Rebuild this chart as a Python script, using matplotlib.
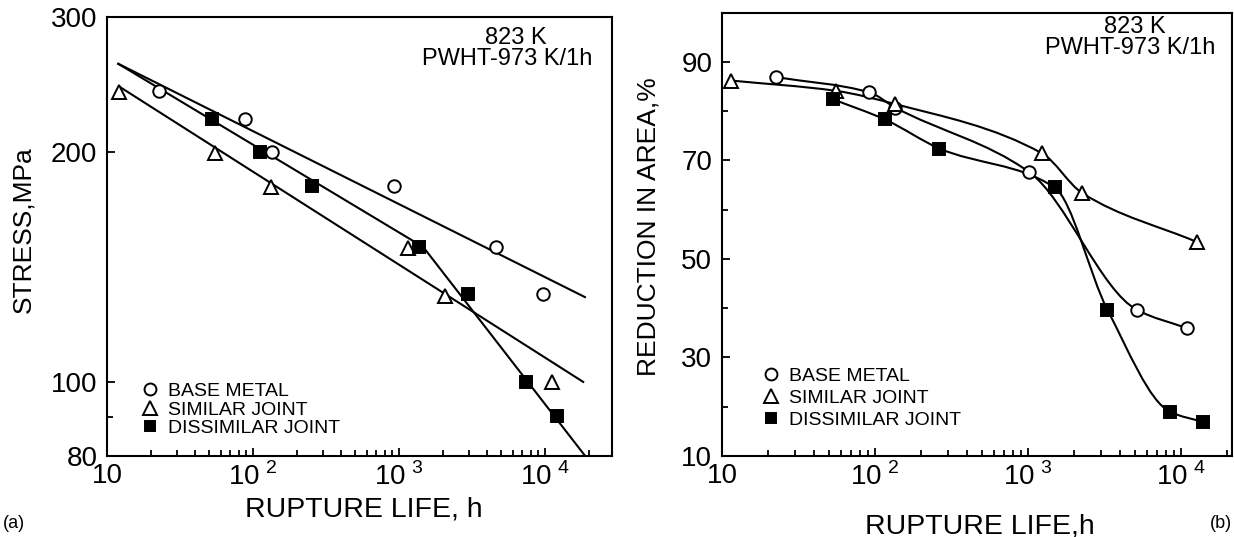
import matplotlib
matplotlib.use("Agg")
import matplotlib.pyplot as plt
from matplotlib.path import Path
from matplotlib.patches import PathPatch
from matplotlib.ticker import FixedLocator, NullFormatter
import numpy as np

plt.rcParams['font.family'] = ['Liberation Sans', 'DejaVu Sans']
plt.rcParams['mathtext.fontset'] = 'custom'
plt.rcParams['mathtext.rm'] = 'Liberation Sans'

# (a) stress vs rupture life, points
base_life = [22.8, 88.9, 134.6, 923, 4613, 9700]
base_stress = [240, 220.6, 200, 180.4, 150.2, 130.2]
sim_life = [12.0, 55.2, 133, 1145, 2065, 11100]
sim_stress = [239.6, 199.4, 179.8, 149.6, 129.5, 100]
dis_life = [52.8, 112, 254.6, 1380, 2993, 7430, 12190]
dis_stress = [220.6, 200, 180.4, 150.2, 130.2, 100, 90.2]

# (a) fitted lines, end points / vertices
base_fit_life = [11.95, 18800]
base_fit_stress = [260.6, 129.1]
sim_fit_life = [12.27, 18300]
sim_fit_stress = [243, 100]
dis_fit_life = [11.95, 1468, 18800]
dis_fit_stress = [260.6, 150.1, 80.1]

# (b) reduction in area vs rupture life
base_life_b = [22.4, 91.6, 135.9, 1018, 5117, 10990]
base_ra = [86.9, 83.8, 80.7, 67.6, 39.7, 35.9]
sim_life_b = [11.4, 55.6, 136, 1236, 2249, 12740]
sim_ra = [86.2, 84.1, 81.4, 71.4, 63.4, 53.4]
dis_life_b = [53, 115.9, 263.6, 1489, 3296, 8433, 13900]
dis_ra = [82.4, 78.3, 72.4, 64.5, 39.7, 19.0, 16.9]

labels = ["BASE METAL", "SIMILAR JOINT", "DISSIMILAR JOINT"]
x_ticks = [10, 100, 1000, 10000]
x_ticklabels = ["10", r"$10^{\ 2}$", r"$10^{\ 3}$", r"$10^{\ 4}$"]

LW = 1.5
MS = 9


def smooth_path(xs, ys):
    # cubic bezier through the points in (log x, y), pchip-style slopes
    x = np.log10(xs)
    y = np.asarray(ys, float)
    h = np.diff(x)
    d = np.diff(y) / h
    m = np.zeros_like(y)
    for i in range(1, len(y) - 1):
        if d[i - 1] * d[i] > 0:
            w1 = 2 * h[i] + h[i - 1]
            w2 = h[i] + 2 * h[i - 1]
            m[i] = (w1 + w2) / (w1 / d[i - 1] + w2 / d[i])
    m[0] = d[0]
    m[-1] = d[-1]
    verts = [(x[0], y[0])]
    codes = [Path.MOVETO]
    for i in range(len(y) - 1):
        verts += [(x[i] + h[i] / 3, y[i] + m[i] * h[i] / 3),
                  (x[i + 1] - h[i] / 3, y[i + 1] - m[i + 1] * h[i] / 3),
                  (x[i + 1], y[i + 1])]
        codes += [Path.CURVE4] * 3
    verts = np.array(verts)
    verts[:, 0] = 10 ** verts[:, 0]
    return Path(verts, codes)


def style_axes(ax):
    for s in ax.spines.values():
        s.set_linewidth(1.5)
    ax.tick_params(which='both', direction='in', top=False, right=False,
                   labelsize=20, width=1.3)
    ax.tick_params(which='major', length=6, pad=7)
    ax.tick_params(which='minor', length=4)
    ax.set_xticks(x_ticks)
    ax.set_xticklabels(x_ticklabels)
    ax.xaxis.set_minor_formatter(NullFormatter())
    ax.tick_params(axis='x', pad=5)


def add_points(ax, xb, yb, xs, ys, xd, yd):
    ax.plot(xb, yb, 'o', ls='none', mfc='white', mec='k', mew=1.4, ms=MS, label=labels[0])
    ax.plot(xs, ys, '^', ls='none', mfc='white', mec='k', mew=1.4, ms=MS + 1, label=labels[1])
    ax.plot(xd, yd, 's', ls='none', mfc='k', mec='k', mew=1.4, ms=MS - 1, label=labels[2])


fig = plt.figure(figsize=(12.34, 5.37), dpi=100)
ax1 = fig.add_axes([0.0867, 0.1508, 0.4092, 0.8175])
ax2 = fig.add_axes([0.5851, 0.1508, 0.4133, 0.8259])

# ---- (a)
ax1.set_xscale('log')
ax1.set_yscale('log')
ax1.plot(base_fit_life, base_fit_stress, c='k', lw=LW)
ax1.plot(sim_fit_life, sim_fit_stress, c='k', lw=LW)
ax1.plot(dis_fit_life, dis_fit_stress, c='k', lw=LW)
add_points(ax1, base_life, base_stress, sim_life, sim_stress, dis_life, dis_stress)
ax1.set_xlim(10, 28800)
ax1.set_ylim(80, 300)
style_axes(ax1)
ax1.yaxis.set_major_locator(FixedLocator([80, 100, 200, 300]))
ax1.set_yticklabels(["80", "100", "200", "300"])
ax1.yaxis.set_minor_locator(FixedLocator([90]))
ax1.yaxis.set_minor_formatter(NullFormatter())
ax1.set_xlabel("RUPTURE LIFE, h", fontsize=20.5)
ax1.xaxis.set_label_coords(0.509, -0.092)
ax1.set_ylabel("STRESS,MPa", fontsize=19)
ax1.yaxis.set_label_coords(-0.1426, 0.515)
ax1.text(0.871, 0.952, "823 K", transform=ax1.transAxes, ha='right', va='center', fontsize=17)
ax1.text(0.962, 0.904, "PWHT-973 K/1h", transform=ax1.transAxes, ha='right', va='center', fontsize=17)
ax1.legend(loc='lower left', bbox_to_anchor=(0.069, 0.043), frameon=False, fontsize=14,
           handlelength=0.8, handletextpad=0.55, labelspacing=0.05, borderpad=0,
           borderaxespad=0, markerscale=0.95)

# ---- (b)
ax2.set_xscale('log')
for xs, ys in [(base_life_b, base_ra), (sim_life_b, sim_ra), (dis_life_b, dis_ra)]:
    ax2.add_patch(PathPatch(smooth_path(xs, ys), fill=False, ec='k', lw=LW))
add_points(ax2, base_life_b, base_ra, sim_life_b, sim_ra, dis_life_b, dis_ra)
ax2.set_xlim(10, 21500)
ax2.set_ylim(10, 100)
style_axes(ax2)
ax2.set_yticks([10, 30, 50, 70, 90])
ax2.yaxis.set_minor_locator(FixedLocator([20, 40, 60, 80]))
ax2.set_xlabel("RUPTURE LIFE,h", fontsize=20.5)
ax2.xaxis.set_label_coords(0.506, -0.129)
ax2.set_ylabel("REDUCTION IN AREA,%", fontsize=19)
ax2.yaxis.set_label_coords(-0.12, 0.517)
ax2.text(0.869, 0.968, "823 K", transform=ax2.transAxes, ha='right', va='center', fontsize=17)
ax2.text(0.967, 0.919, "PWHT-973 K/1h", transform=ax2.transAxes, ha='right', va='center', fontsize=17)
ax2.legend(loc='lower left', bbox_to_anchor=(0.08, 0.061), frameon=False, fontsize=14,
           handlelength=0.8, handletextpad=0.55, labelspacing=0.22, borderpad=0,
           borderaxespad=0, markerscale=0.95)

fig.text(0.002, 0.025, "(a)", fontsize=13, ha='left', va='center')
fig.text(0.998, 0.025, "(b)", fontsize=13, ha='right', va='center')

fig.savefig("out.png", dpi=100)
